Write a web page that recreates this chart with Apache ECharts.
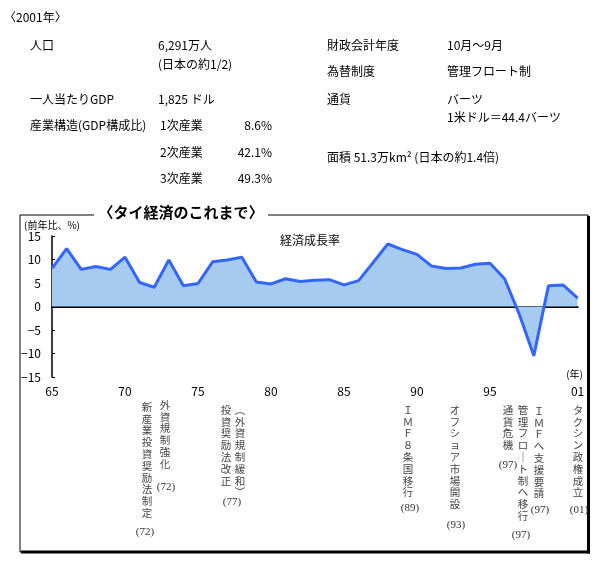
<!DOCTYPE html>
<html>
<head>
<meta charset="utf-8">
<script src="https://cdn.jsdelivr.net/npm/echarts@6/dist/echarts.min.js"></script>
<style>
  html, body { margin: 0; padding: 0; background: #fff; }
  #main { width: 611px; height: 563px; }
</style>
</head>
<body>
<div id="main"></div>
<script>
// 年（65〜01）
var years = ['65','66','67','68','69','70','71','72','73','74','75','76','77','78','79',
             '80','81','82','83','84','85','86','87','88','89','90','91','92','93','94',
             '95','96','97','98','99','00','01'];
// 経済成長率（前年比、%）
var growth = [8.1, 12.3, 7.9, 8.5, 7.9, 10.5, 5.1, 4.1, 9.9, 4.4, 4.9, 9.5, 9.9, 10.5, 5.2,
              4.8, 5.9, 5.3, 5.6, 5.7, 4.6, 5.5, 9.4, 13.3, 12.1, 11.1, 8.6, 8.1, 8.2, 9.0,
              9.2, 5.9, -1.6, -10.5, 4.4, 4.6, 1.8];
var shownYears = ['65','70','75','80','85','90','95','01'];
var yTicks = [-15, -10, -5, 0, 5, 10, 15];

// 出来事（縦書き）
var noteTexts = ['新産業投資奨励法制定', '外資規制強化', '投資奨励法改正', '︵外資規制緩和︶',
                 'ＩＭＦ８条国移行', 'オフショア市場開設', '通貨危機', '管理フロ｜ト制へ移行',
                 'ＩＭＦへ支援要請', 'タクシン政権成立'];
var noteTags = ['(72)', '(72)', '(77)', '', '(89)', '(93)', '(97)', '(97)', '(97)', '(01)'];
// 配置
var noteX = [147, 165, 226, 240, 408, 455, 508, 523, 539, 578];
var noteY = [401, 399, 404, 404, 404, 404, 404, 404, 405, 404];
var tagX = [145, 166, 232, 0, 410, 456, 508, 521, 540, 579];
var tagY = [532, 487, 502, 0, 508, 525, 465, 535, 510, 510];

// 概要
var infoRows = [
    ['〈2001年〉', 4, 17],
    ['人口', 30, 45], ['6,291万人', 158, 45], ['(日本の約1/2)', 158, 64],
    ['一人当たりGDP', 30, 99], ['1,825 ドル', 158, 99],
    ['産業構造(GDP構成比)', 30, 125], ['1次産業', 160, 125], ['2次産業', 160, 152], ['3次産業', 160, 178],
    ['財政会計年度', 327, 45], ['10月～9月', 447, 45],
    ['為替制度', 327, 71], ['管理フロート制', 447, 71],
    ['通貨', 327, 99], ['バーツ', 447, 99], ['1米ドル＝44.4バーツ', 447, 117],
    ['面積 51.3万km² (日本の約1.4倍)', 327, 157]
];
var shares = ['8.6%', '42.1%', '49.3%'];
var shareY = [125, 152, 178];

var FONT = '"Noto Sans CJK JP", sans-serif';
var myChart = echarts.init(document.getElementById('main'), null, { renderer: 'canvas' });

var graphics = [];

// 枠
graphics.push({ type: 'rect', shape: { x: 20, y: 215, width: 568, height: 337 },
    style: { fill: 'none', stroke: '#000', lineWidth: 1 }, z: 1 });
graphics.push({ type: 'line', shape: { x1: 588.5, y1: 216, x2: 588.5, y2: 553.5 },
    style: { stroke: '#000', lineWidth: 3 }, z: 1 });
graphics.push({ type: 'line', shape: { x1: 21, y1: 552, x2: 590, y2: 552 },
    style: { stroke: '#000', lineWidth: 3 }, z: 1 });
graphics.push({ type: 'rect', shape: { x: 94, y: 205, width: 174, height: 18 },
    style: { fill: '#fff' }, z: 2 });
graphics.push({ type: 'text', z: 3, style: { text: '〈タイ経済のこれまで〉', x: 181, y: 212,
    textAlign: 'center', textVerticalAlign: 'middle', font: 'bold 15px ' + FONT, fill: '#000' } });

infoRows.forEach(function (r) {
    graphics.push({ type: 'text', z: 3, style: { text: r[0], x: r[1], y: r[2],
        textVerticalAlign: 'middle', font: '12px ' + FONT, fill: '#000' } });
});
shares.forEach(function (s, i) {
    graphics.push({ type: 'text', z: 3, style: { text: s, x: 272, y: shareY[i],
        textAlign: 'right', textVerticalAlign: 'middle', font: '12px ' + FONT, fill: '#000' } });
});

graphics.push({ type: 'text', z: 3, style: { text: '(前年比、%)', x: 24, y: 225,
    textVerticalAlign: 'middle', font: '10px ' + FONT, fill: '#000' } });
graphics.push({ type: 'text', z: 3, style: { text: '経済成長率', x: 310, y: 240,
    textAlign: 'center', textVerticalAlign: 'middle', font: '12px ' + FONT, fill: '#000' } });
graphics.push({ type: 'text', z: 3, style: { text: '(年)', x: 583, y: 374,
    textAlign: 'right', textVerticalAlign: 'middle', font: '10px ' + FONT, fill: '#000' } });

noteTexts.forEach(function (t, i) {
    graphics.push({ type: 'text', z: 3, style: { text: t.split('').join('\n'),
        x: noteX[i], y: noteY[i], textAlign: 'center', textVerticalAlign: 'top',
        font: '10.5px ' + FONT, lineHeight: 11.8, fill: '#444' } });
    if (noteTags[i]) {
        graphics.push({ type: 'text', z: 3, style: { text: noteTags[i], x: tagX[i], y: tagY[i],
            textAlign: 'center', textVerticalAlign: 'middle',
            font: '11px "Liberation Serif", serif', fill: '#333' } });
    }
});

var option = {
    animation: false,
    backgroundColor: '#fff',
    grid: { left: 52, right: 33.4, top: 236, bottom: 186 },
    xAxis: [{
        type: 'category',
        data: years,
        boundaryGap: false,
        axisLine: { onZero: true, lineStyle: { color: '#000', width: 2 } },
        axisTick: { show: false },
        axisLabel: { show: false }
    }, {
        type: 'category',
        data: years,
        boundaryGap: false,
        position: 'bottom',
        axisLine: { show: false },
        axisTick: { show: false },
        axisLabel: {
            margin: 8,
            fontSize: 12,
            fontFamily: FONT,
            color: '#000',
            interval: function (idx, val) { return shownYears.indexOf(val) >= 0; }
        }
    }],
    yAxis: {
        type: 'value',
        min: yTicks[0],
        max: yTicks[yTicks.length - 1],
        interval: 5,
        splitLine: { show: false },
        axisLine: { show: true, lineStyle: { color: '#000', width: 1.5 } },
        axisTick: { show: true, inside: true, length: 3, lineStyle: { color: '#000' } },
        axisLabel: {
            margin: 11,
            fontSize: 12,
            fontFamily: FONT,
            color: '#000',
            formatter: function (v) { return v < 0 ? '−' + Math.abs(v) : String(v); }
        }
    },
    series: [{
        type: 'line',
        data: growth,
        xAxisIndex: 0,
        symbol: 'none',
        lineStyle: { color: '#3366ff', width: 3 },
        areaStyle: { color: '#a6caf0', opacity: 1 },
        z: 1
    }],
    graphic: graphics
};

myChart.setOption(option);
</script>
</body>
</html>
